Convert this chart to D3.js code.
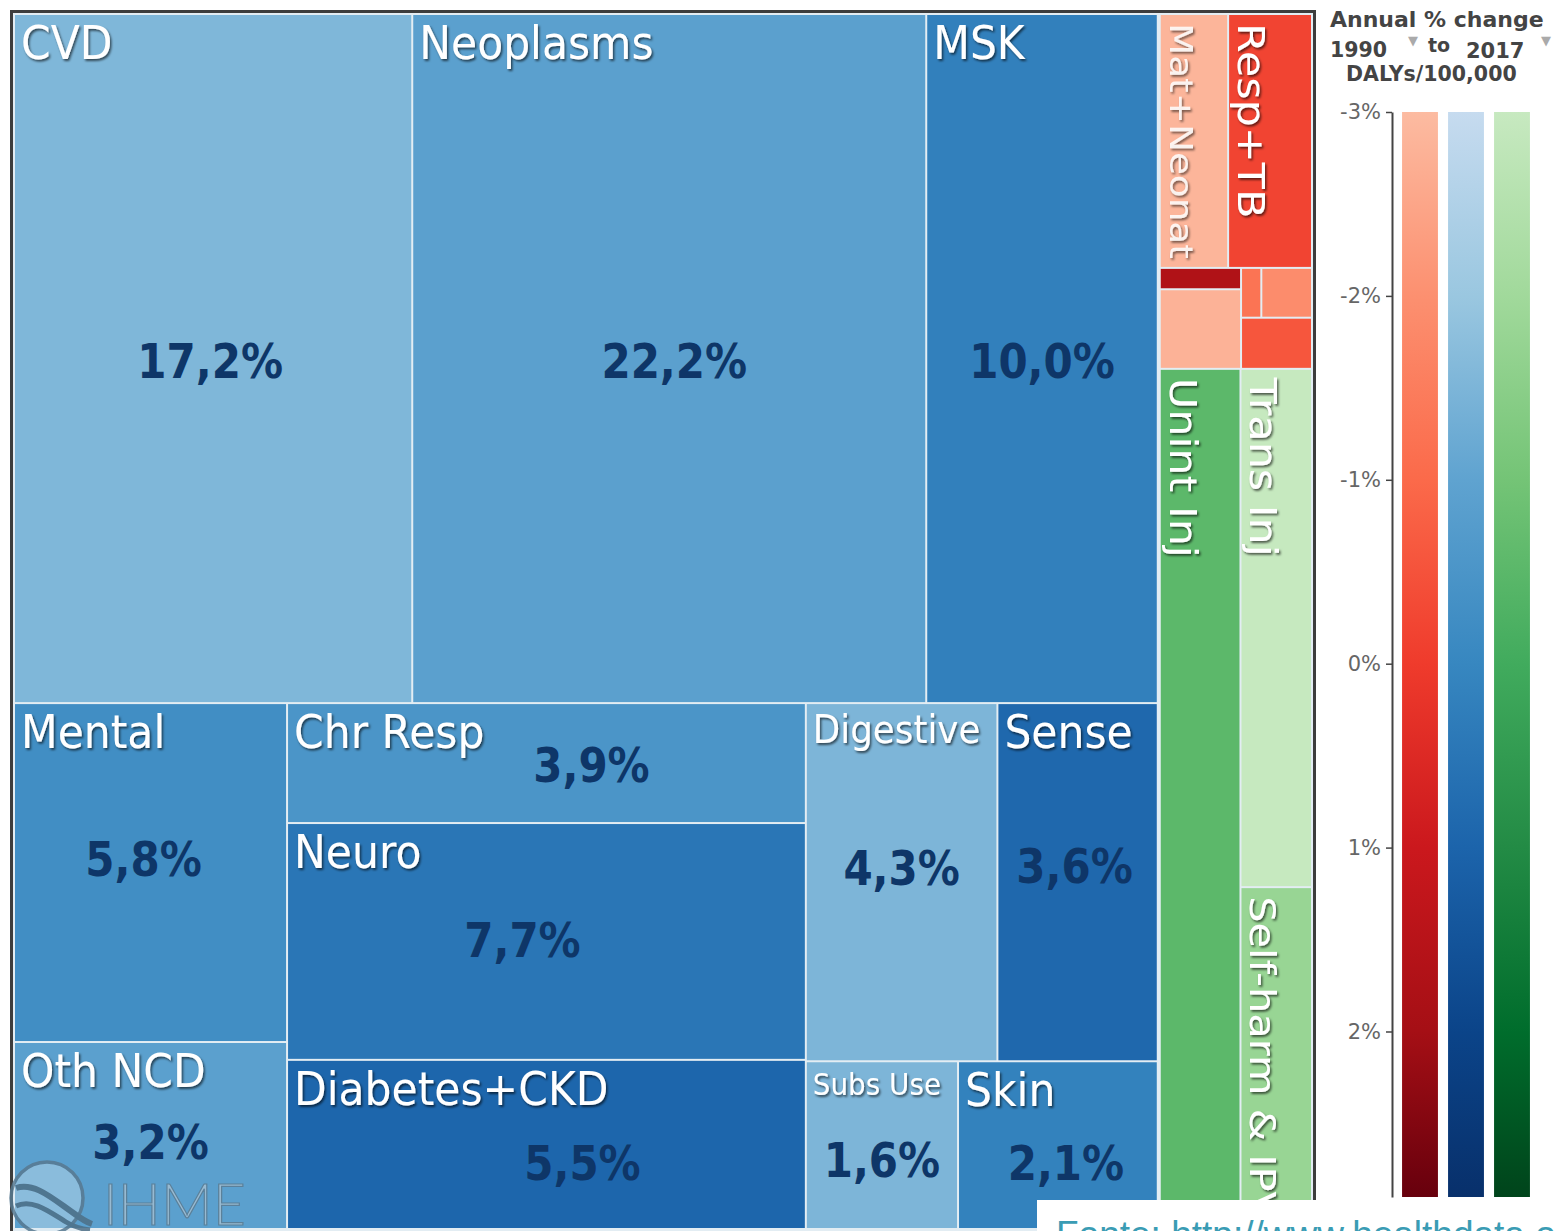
<!DOCTYPE html>
<html>
<head>
<meta charset="utf-8">
<script src="https://cdn.jsdelivr.net/npm/d3@7"></script>
<style>
  html, body { margin: 0; padding: 0; background: #fff; }
  svg { display: block; }
</style>
</head>
<body>
<svg id="chart" width="1554" height="1231"></svg>
<script>
// ---------------- DATA ----------------
const categories = [
  "CVD", "Neoplasms", "MSK", "Mental", "Oth NCD", "Chr Resp", "Neuro", "Diabetes+CKD",
  "Digestive", "Sense", "Subs Use", "Skin",
  "Mat+Neonat", "Resp+TB", "HIV/STI", "Enteric Inf", "NTD+Mal", "Nutr Def", "Oth Infect",
  "Unint Inj", "Trans Inj", "Self-harm & IPV"
];
// share of all DALYs (%), drives cell area
const shares = [
  17.2, 22.2, 10.0, 5.8, 3.2, 3.9, 7.7, 5.5,
  4.3, 3.6, 1.6, 2.1,
  1.1, 1.35, 0.11, 0.41, 0.064, 0.16, 0.23,
  4.4, 2.35, 1.55
];
// annual % change of DALYs/100,000, 1990 to 2017, drives colour
const annualChange = [
  -1.55, -0.9, 0.2, -0.25, -0.9, -0.5, 0.5, 0.95,
  -1.5, 0.9, -1.5, 0.15,
  -2.85, -0.2, 1.7, -2.8, -1.26, -1.9, -0.57,
  -0.53, -2.97, -1.8
];
// cause group: ncd = blue, cmnn = red, inj = green
const causeGroup = [
  "ncd", "ncd", "ncd", "ncd", "ncd", "ncd", "ncd", "ncd",
  "ncd", "ncd", "ncd", "ncd",
  "cmnn", "cmnn", "cmnn", "cmnn", "cmnn", "cmnn", "cmnn",
  "inj", "inj", "inj"
];
// nesting of the treemap: "row" = side by side, "col" = stacked; numbers = category index
const layoutTree = ["row",
  ["col",
    ["row", 0, 1, 2],
    ["row", ["col", 3, 4], ["col", 5, 6, 7], ["col", ["row", 8, 9], ["row", 10, 11]]]
  ],
  ["col",
    ["row", 12, 13],
    ["row", ["col", 14, 15], ["col", ["row", 16, 17], 18]],
    ["row", 19, ["col", 20, 21]]
  ]
];
const legendGroups = ["cmnn", "ncd", "inj"];
const legendTicks = [-3, -2, -1, 0, 1, 2];
const legendDomain = [-3, 2.9];
const legendTitle = "Annual % change";
const legendYears = ["1990", "to", "2017"];
const legendMeasure = "DALYs/100,000";
const logoText = "IHME";
const sourceText = "Fonte: http://www.healthdata.org";

// ---------------- STYLE / SCALES ----------------
const colorStops = [-3, -2, -1, 0, 1, 2, 2.9];
const palettes = {
  ncd:  ["#c6dbef", "#9ac7e0", "#5fa3d0", "#3787c0", "#1c64ab", "#0b4489", "#08306b"],
  cmnn: ["#fcbba1", "#fc9070", "#fb6a4a", "#ef3b2c", "#cb181d", "#a50f15", "#67000d"],
  inj:  ["#c7e9c0", "#a1d99b", "#74c476", "#41ab5d", "#238b45", "#006d2c", "#00441b"]
};
const colorScales = {};
for (const k of Object.keys(palettes)) {
  colorScales[k] = d3.scaleLinear().domain(colorStops).range(palettes[k])
    .interpolate(d3.interpolateRgb).clamp(true);
}
const shareLabelNudge = {
  "CVD": [-3, 2], "Neoplasms": [5, 2], "MSK": [0, 2],
  "Mental": [-7, -14], "Oth NCD": [0, 6],
  "Chr Resp": [45, 2], "Neuro": [-24, -2], "Diabetes+CKD": [36, 18],
  "Digestive": [0, -14], "Sense": [-3, -16], "Subs Use": [0, 15], "Skin": [8, 18]
};

const svg = d3.select("#chart");
const defs = svg.append("defs");
const f = defs.append("filter").attr("id", "shadow")
  .attr("x", "-20%").attr("y", "-20%").attr("width", "140%").attr("height", "150%");
f.append("feDropShadow").attr("dx", 1.5).attr("dy", 2).attr("stdDeviation", 1.2)
  .attr("flood-color", "#000").attr("flood-opacity", 0.6);

// ---------------- FRAME ----------------
svg.append("rect").attr("x", 13).attr("y", 13).attr("width", 1300).attr("height", 1240)
  .attr("fill", "#e3edf3");
svg.append("rect").attr("x", 11.5).attr("y", 11.5).attr("width", 1303).attr("height", 1250)
  .attr("fill", "none").attr("stroke", "#3d3d3d").attr("stroke-width", 3);

// ---------------- TREEMAP ----------------
function buildNode(n) {
  if (typeof n === "number") return { index: n };
  return { dir: n[0], children: n.slice(1).map(buildNode) };
}
const root = d3.hierarchy(buildNode(layoutTree))
  .sum(d => d.index === undefined ? 0 : shares[d.index]);

d3.treemap()
  .size([1296, 1213])
  .paddingInner(n => n.depth === 0 ? 4 : 2)
  .tile((node, x0, y0, x1, y1) =>
    (node.data.dir === "row" ? d3.treemapDice : d3.treemapSlice)(node, x0, y0, x1, y1))(root);

const leaves = root.leaves();
const tm = svg.append("g").attr("transform", "translate(15,15)");

tm.selectAll("rect.cell").data(leaves).join("rect")
  .attr("class", "cell")
  .attr("x", d => d.x0).attr("y", d => d.y0)
  .attr("width", d => d.x1 - d.x0).attr("height", d => d.y1 - d.y0)
  .attr("fill", d => colorScales[causeGroup[d.data.index]](annualChange[d.data.index]));

// measure helper
const meas = svg.append("text").attr("font-family", "DejaVu Sans").attr("font-size", 100)
  .attr("visibility", "hidden");
function emWidth(str) { meas.text(str); return meas.node().getComputedTextLength() / 100; }

// name labels
leaves.forEach(d => {
  const i = d.data.index;
  if (shares[i] < 1) return;
  const name = categories[i];
  const w = d.x1 - d.x0, h = d.y1 - d.y0;
  const em = emWidth(name);
  if (causeGroup[i] === "ncd") {
    const fs = Math.min(42.5, (w - 22) / em);
    const capH = fs * 0.729 * 1.1;
    const wrap = tm.append("g").attr("filter", "url(#shadow)");
    wrap.append("g")
      .attr("transform", `translate(${d.x0 + 6},${d.y0 + 10 + capH}) scale(1,1.1)`)
      .append("text")
      .attr("font-family", "DejaVu Sans").attr("font-size", fs)
      .attr("fill", "#fff").text(name);
  } else {
    const sx = 1.16;
    const fs = Math.min(37, (h - 16) / (em * sx));
    const wrap = tm.append("g").attr("filter", "url(#shadow)");
    wrap.append("g")
      .attr("transform", `translate(${d.x0 + 9},${d.y0 + 8}) rotate(90) scale(${sx},1)`)
      .append("text")
      .attr("font-family", "DejaVu Sans").attr("font-size", fs)
      .attr("fill", "#fff").attr("fill-opacity", causeGroup[i] === "cmnn" && annualChange[i] < -2 ? 0.85 : 1)
      .text(name);
  }
});

// share labels
leaves.forEach(d => {
  const i = d.data.index;
  if (causeGroup[i] !== "ncd") return;
  const nudge = shareLabelNudge[categories[i]] || [0, 0];
  const cx = (d.x0 + d.x1) / 2 + nudge[0];
  const cy = (d.y0 + d.y1) / 2 + nudge[1];
  tm.append("g").attr("transform", `translate(${cx},${cy}) scale(1,1.13)`)
    .append("text")
    .attr("text-anchor", "middle").attr("dy", "0.36em")
    .attr("font-family", "DejaVu Sans").attr("font-weight", "bold").attr("font-size", 42)
    .attr("fill", "#0e3668")
    .text(shares[i].toFixed(1).replace(".", ",") + "%");
});
meas.remove();

// ---------------- LEGEND ----------------
const lg = svg.append("g");
const yL = d3.scaleLinear().domain(legendDomain).range([112, 1197]);
const xL = d3.scaleBand().domain(legendGroups).range([1397, 1535]).paddingInner(0.22).paddingOuter(0.11);

legendGroups.forEach(k => {
  const grad = defs.append("linearGradient").attr("id", "grad-" + k)
    .attr("gradientUnits", "userSpaceOnUse")
    .attr("x1", 0).attr("x2", 0).attr("y1", yL(legendDomain[0])).attr("y2", yL(legendDomain[1]));
  colorStops.forEach(v => {
    grad.append("stop")
      .attr("offset", (v - legendDomain[0]) / (legendDomain[1] - legendDomain[0]))
      .attr("stop-color", colorScales[k](v));
  });
});
lg.selectAll("rect.lbar").data(legendGroups).join("rect")
  .attr("class", "lbar")
  .attr("x", k => xL(k)).attr("width", xL.bandwidth())
  .attr("y", yL(legendDomain[0])).attr("height", yL(legendDomain[1]) - yL(legendDomain[0]))
  .attr("fill", k => `url(#grad-${k})`);

const axisG = lg.append("g").attr("transform", "translate(1392,0)")
  .call(d3.axisLeft(yL).tickValues(legendTicks).tickFormat(d => d + "%")
    .tickSize(6).tickSizeOuter(0).tickPadding(5));
axisG.select(".domain").attr("stroke", "#444").attr("stroke-width", 2);
axisG.selectAll(".tick line").attr("stroke", "#444").attr("stroke-width", 1.5);
axisG.selectAll(".tick text").attr("font-family", "DejaVu Sans").attr("font-size", 21)
  .attr("fill", "#666");

const hdr = { "font-family": "DejaVu Sans", "font-weight": "bold", "fill": "#444" };
function hText(str, x, y, fs) {
  const t = lg.append("text").attr("x", x).attr("y", y).attr("font-size", fs).text(str);
  for (const k in hdr) t.attr(k, hdr[k]);
  return t;
}
hText(legendTitle, 1330, 27, 22);
hText(legendYears[0], 1330, 57, 20.5);
hText(legendYears[1], 1428, 52, 19);
hText(legendYears[2], 1466, 58, 21);
hText(legendMeasure, 1346, 81, 20.5);
[1408, 1541].forEach(x => {
  lg.append("text").attr("x", x).attr("y", 45).attr("font-family", "DejaVu Sans")
    .attr("font-size", 13).attr("fill", "#aaa").text("\u25BC");
});

// ---------------- IHME LOGO ----------------
const logo = svg.append("g").attr("opacity", 0.85);
logo.append("circle").attr("cx", 47).attr("cy", 1198).attr("r", 36)
  .attr("fill", "rgba(215,232,243,0.45)").attr("stroke", "#587990").attr("stroke-width", 3.5);
logo.append("path").attr("d", "M16,1188 C34,1182 52,1198 72,1212 C80,1218 86,1222 92,1224")
  .attr("fill", "none").attr("stroke", "#4e6f86").attr("stroke-width", 6);
logo.append("path").attr("d", "M16,1206 C32,1198 50,1212 66,1222 C74,1227 82,1229 90,1230")
  .attr("fill", "none").attr("stroke", "#4e6f86").attr("stroke-width", 5);
logo.append("text").attr("x", 103).attr("y", 1225)
  .attr("font-family", "Lato").attr("font-weight", 300).attr("font-size", 57)
  .attr("fill", "#a3bfd2").attr("stroke", "#5b7b91").attr("stroke-width", 1.2)
  .text(logoText);

// ---------------- SOURCE ----------------
svg.append("rect").attr("x", 1037).attr("y", 1200).attr("width", 520).attr("height", 40)
  .attr("fill", "#fff");
svg.append("text").attr("x", 1056).attr("y", 1247)
  .attr("font-family", "Liberation Sans").attr("font-size", 37).attr("fill", "#3a9cb4")
  .text(sourceText);
</script>
</body>
</html>
